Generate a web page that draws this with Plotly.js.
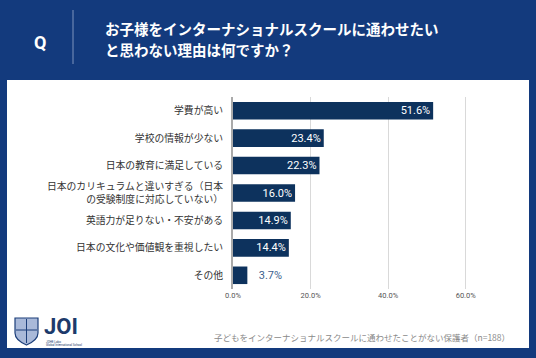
<!DOCTYPE html>
<html><head><meta charset="utf-8">
<script src="https://cdn.plot.ly/plotly-3.0.1.min.js"></script>
<style>html,body{margin:0;padding:0;background:#133a7d;}#c{width:536px;height:358px;}</style>
</head><body><div id="c"></div>
<script>
const categories = ["学費が高い","学校の情報が少ない","日本の教育に満足している","日本のカリキュラムと違いすぎる（日本<br>の受験制度に対応していない）","英語力が足りない・不安がある","日本の文化や価値観を重視したい","その他"];
const values = [51.6, 23.4, 22.3, 16.0, 14.9, 14.4, 3.7];
const tickVals = [0, 20, 40, 60];
const tickText = ["0.0%","20.0%","40.0%","60.0%"];
const titleLines = ["お子様をインターナショナルスクールに通わせたい","と思わない理由は何ですか？"];
const footnote = "子どもをインターナショナルスクールに通わせたことがない保護者（n=188）";

const W=536,H=358, L=233, R=489, T=97, B=289;
const px = x => (x-L)/(R-L);
const py = y => (B-y)/(B-T);
const font = '"Noto Sans CJK JP", "Noto Sans", sans-serif';

const textPos = values.map(v => v < 8 ? 'outside' : 'inside');
const textCol = values.map(v => v < 8 ? '#3d5f8e' : '#ffffff');

const trace = {
  type:'bar', orientation:'h', x: values, y: categories,
  marker:{color:'#0d325d'}, width:0.64,
  text: values.map(v => (v < 8 ? '\u2002 ' : '') + v.toFixed(1)+'%'),
  textposition: textPos, insidetextanchor:'end',
  textfont:{family:'Roboto, sans-serif', size:11, color:textCol},
  outsidetextfont:{family:'Roboto, sans-serif', size:11, color:'#3d5f8e'},
  cliponaxis:false, hoverinfo:'none'
};

const shapes = [
  {type:'rect', xref:'paper', yref:'paper', x0:px(7), x1:px(529), y0:py(348), y1:py(80), fillcolor:'#ffffff', line:{width:0}, layer:'below'},
  {type:'line', xref:'paper', yref:'paper', x0:px(73), x1:px(73), y0:py(10), y1:py(64), line:{color:'#7f93bd', width:1}},
  {type:'path', xref:'paper', yref:'paper',
   path:`M ${px(15)} ${py(318)} L ${px(38)} ${py(318)} L ${px(38)} ${py(333)} Q ${px(38)} ${py(340)} ${px(26.5)} ${py(345)} Q ${px(15)} ${py(340)} ${px(15)} ${py(333)} Z`,
   fillcolor:'#a9b9d9', line:{color:'#1d3f7a', width:1.2}},
  {type:'line', xref:'paper', yref:'paper', x0:px(26.5), x1:px(26.5), y0:py(319), y1:py(343), line:{color:'#1d3f7a', width:1}},
  {type:'line', xref:'paper', yref:'paper', x0:px(16), x1:px(37), y0:py(330), y1:py(330), line:{color:'#1d3f7a', width:1}}
];

const annotations = [
  {xref:'paper', yref:'paper', x:px(40), y:py(42), text:'<b>Q</b>', showarrow:false, font:{family:'Roboto, sans-serif', size:18, color:'#ffffff'}, xanchor:'center', yanchor:'middle'},
  {xref:'paper', yref:'paper', x:px(103), y:py(29), text:'<b>'+titleLines[0]+'</b>', showarrow:false, font:{family:font, size:14.5, color:'#ffffff'}, xanchor:'left', yanchor:'middle'},
  {xref:'paper', yref:'paper', x:px(103), y:py(50), text:'<b>'+titleLines[1]+'</b>', showarrow:false, font:{family:font, size:14.5, color:'#ffffff'}, xanchor:'left', yanchor:'middle'},
  {xref:'paper', yref:'paper', x:px(42), y:py(326), text:'<b>JOI</b>', showarrow:false, font:{family:'Roboto, sans-serif', size:22, color:'#1d3a6b'}, xanchor:'left', yanchor:'middle'},
  {xref:'paper', yref:'paper', x:px(44), y:py(342), text:'JOHE Labo', showarrow:false, font:{family:'Roboto, sans-serif', size:3, color:'#1d3a6b'}, xanchor:'left', yanchor:'middle'},
  {xref:'paper', yref:'paper', x:px(44), y:py(345), text:'Global International School', showarrow:false, font:{family:'Roboto, sans-serif', size:3, color:'#1d3a6b'}, xanchor:'left', yanchor:'middle'},
  {xref:'paper', yref:'paper', x:px(512), y:py(337), text:footnote, showarrow:false, font:{family:font, size:8.5, color:'#8a8a8a'}, xanchor:'right', yanchor:'middle'}
];

const layout = {
  width:W, height:H, margin:{l:L, r:W-R, t:T, b:H-B, pad:0},
  paper_bgcolor:'#133a7d', plot_bgcolor:'rgba(0,0,0,0)',
  showlegend:false, bargap:0.36,
  uniformtext:{mode:'show', minsize:11},
  xaxis:{range:[0,66], tickvals:tickVals, ticktext:tickText, tickfont:{family:'Roboto, sans-serif', size:7.5, color:'#555555'},
    showgrid:true, gridcolor:'#d9d9d9', gridwidth:1, zeroline:false, showline:false, ticks:'', ticklen:0, fixedrange:true},
  yaxis:{type:'category', categoryorder:'array', categoryarray:categories, autorange:'reversed', range:[6.5,-0.5],
    tickfont:{family:font, size:9.8, color:'#333333'}, ticks:'outside', ticklen:6, tickcolor:'rgba(0,0,0,0)',
    showline:true, linecolor:'#aaaaaa', linewidth:2, showgrid:false, zeroline:false},
  shapes, annotations,
  font:{family:font}
};
Plotly.newPlot('c',[trace],layout,{staticPlot:true, displayModeBar:false});
</script></body></html>
